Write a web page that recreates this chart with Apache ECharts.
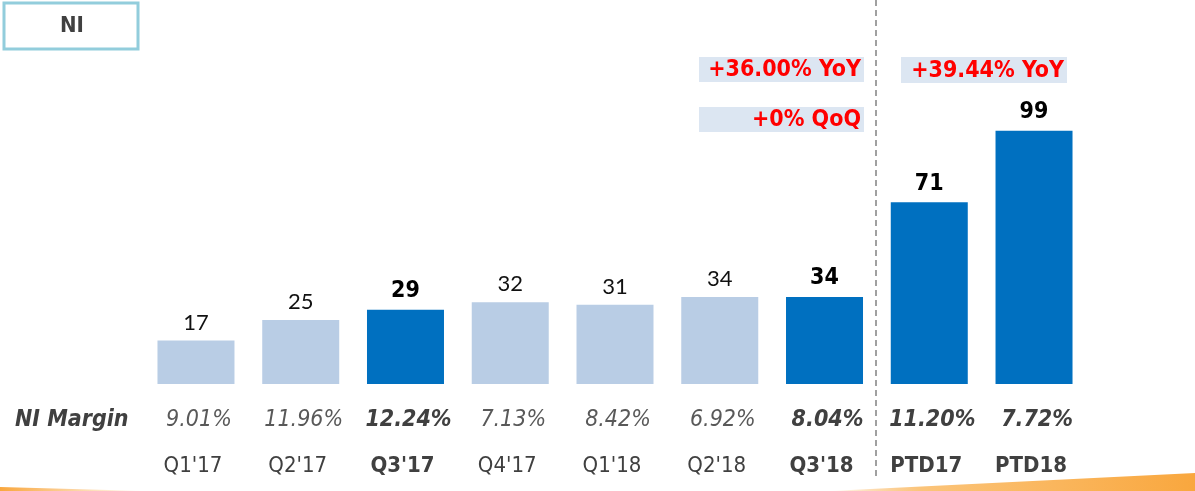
<!DOCTYPE html>
<html>
<head>
<meta charset="utf-8">
<script src="https://cdn.jsdelivr.net/npm/echarts@6/dist/echarts.min.js"></script>
<style>
html,body{margin:0;padding:0;background:#fff;}
#main{width:1195px;height:491px;}
</style>
</head>
<body>
<div id="main"></div>
<script>
var categories = ["Q1'17", "Q2'17", "Q3'17", "Q4'17", "Q1'18", "Q2'18", "Q3'18", "PTD17", "PTD18"];
var niValues = [17, 25, 29, 32, 31, 34, 34, 71, 99];
var niMargins = ["9.01%", "11.96%", "12.24%", "7.13%", "8.42%", "6.92%", "8.04%", "11.20%", "7.72%"];
var highlighted = [false, false, true, false, false, false, true, true, true];
var yoyQuarter = "+36.00% YoY";
var qoqQuarter = "+0% QoQ";
var yoyPeriod = "+39.44% YoY";

var FONT = "'DejaVu Sans Condensed', 'DejaVu Sans', sans-serif";
var LIGHT = '#B9CDE5', DARK = '#0070C0';

var chart = echarts.init(document.getElementById('main'), null, {renderer: 'canvas'});

var barData = niValues.map(function (v, i) {
  return {
    value: v,
    itemStyle: {color: highlighted[i] ? DARK : LIGHT},
    label: highlighted[i]
      ? {fontFamily: FONT, fontWeight: 'bold', fontSize: 23, color: '#000'}
      : {fontFamily: "Lato, 'DejaVu Sans', sans-serif", fontWeight: 'normal', fontSize: 22, color: '#111'}
  };
});

var option = {
  animation: false,
  backgroundColor: '#fff',
  grid: {left: 143.6, right: 108.6, top: 77, bottom: 107, containLabel: false},
  xAxis: [{
    type: 'category',
    data: categories,
    position: 'bottom',
    axisLine: {show: false},
    axisTick: {show: false},
    axisLabel: {
      margin: 25,
      interval: 0,
      formatter: function (val, idx) {
        return (highlighted[idx] ? '{b|' : '{n|') + niMargins[idx] + '}';
      },
      rich: {
        n: {fontFamily: FONT, fontStyle: 'italic', fontSize: 23, color: '#595959', padding: [0, 0, 0, 6]},
        b: {fontFamily: FONT, fontStyle: 'italic', fontWeight: 'bold', fontSize: 23, color: '#404040', padding: [0, 0, 0, 6]}
      }
    }
  }, {
    type: 'category',
    data: categories,
    position: 'bottom',
    axisLine: {show: false},
    axisTick: {show: false},
    axisLabel: {
      margin: 71,
      interval: 0,
      formatter: function (val, idx) {
        return (highlighted[idx] ? '{b|' : '{n|') + val + '}';
      },
      rich: {
        n: {fontFamily: FONT, fontSize: 22, color: '#404040', padding: [0, 6, 0, 0]},
        b: {fontFamily: FONT, fontWeight: 'bold', fontSize: 22, color: '#404040', padding: [0, 6, 0, 0]}
      }
    }
  }],
  yAxis: {
    type: 'value', min: 0, max: 120, show: false,
    splitLine: {show: false}
  },
  series: [{
    type: 'bar',
    xAxisIndex: 0,
    data: barData,
    barWidth: 77,
    label: {show: true, position: 'top', distance: 7}
  }]
};
chart.setOption(option);

// separator position derived from the category axis
var x6 = chart.convertToPixel({xAxisIndex: 0}, 6);
var x7 = chart.convertToPixel({xAxisIndex: 0}, 7);
var sepX = Math.round((x6 + x7) / 2) - 1;

function labelBox(x, y, w, h, text) {
  return {
    type: 'group', left: x, top: y, silent: true,
    children: [
      {type: 'rect', shape: {x: 0, y: 0, width: w, height: h}, style: {fill: '#DCE6F2'}},
      {type: 'text', x: w - 3, y: h / 2 + 1,
       style: {text: text, fill: '#FF0000', font: 'bold 23px ' + FONT, align: 'right', verticalAlign: 'middle'}}
    ]
  };
}

chart.setOption({
  graphic: [
    // title box
    {type: 'rect', shape: {x: 4, y: 3, width: 134, height: 46},
     style: {fill: '#fff', stroke: '#92CDDC', lineWidth: 3}, silent: true},
    {type: 'text', x: 72, y: 26,
     style: {text: 'NI', fill: '#404040', font: 'bold 22px ' + FONT, align: 'center', verticalAlign: 'middle'}, silent: true},
    // margin row title
    {type: 'text', x: 15, y: 420,
     style: {text: 'NI Margin', fill: '#404040', font: 'italic bold 23px ' + FONT, align: 'left', verticalAlign: 'middle'}, silent: true},
    // separator
    {type: 'line', shape: {x1: sepX, y1: 0, x2: sepX, y2: 476},
     style: {stroke: '#A0A0A0', lineWidth: 2, lineDash: [6, 4]}, silent: true},
    // annotations
    labelBox(699, 57, 165, 25, yoyQuarter),
    labelBox(699, 107, 165, 25, qoqQuarter),
    labelBox(901, 57, 166, 26, yoyPeriod),
    // bottom orange swoosh
    {type: 'polygon', shape: {points: [[830, 491], [1195, 473], [1195, 491]]},
     style: {fill: new echarts.graphic.LinearGradient(0, 0, 1, 0, [
       {offset: 0, color: 'rgba(249,167,62,0)'}, {offset: 0.25, color: '#FBC47A'}, {offset: 1, color: '#F9A73E'}])}, silent: true},
    {type: 'polygon', shape: {points: [[0, 487], [145, 491], [0, 491]]},
     style: {fill: new echarts.graphic.LinearGradient(0, 0, 1, 0, [
       {offset: 0, color: '#F9A73E'}, {offset: 1, color: 'rgba(249,167,62,0)'}])}, silent: true}
  ]
});
</script>
</body>
</html>
